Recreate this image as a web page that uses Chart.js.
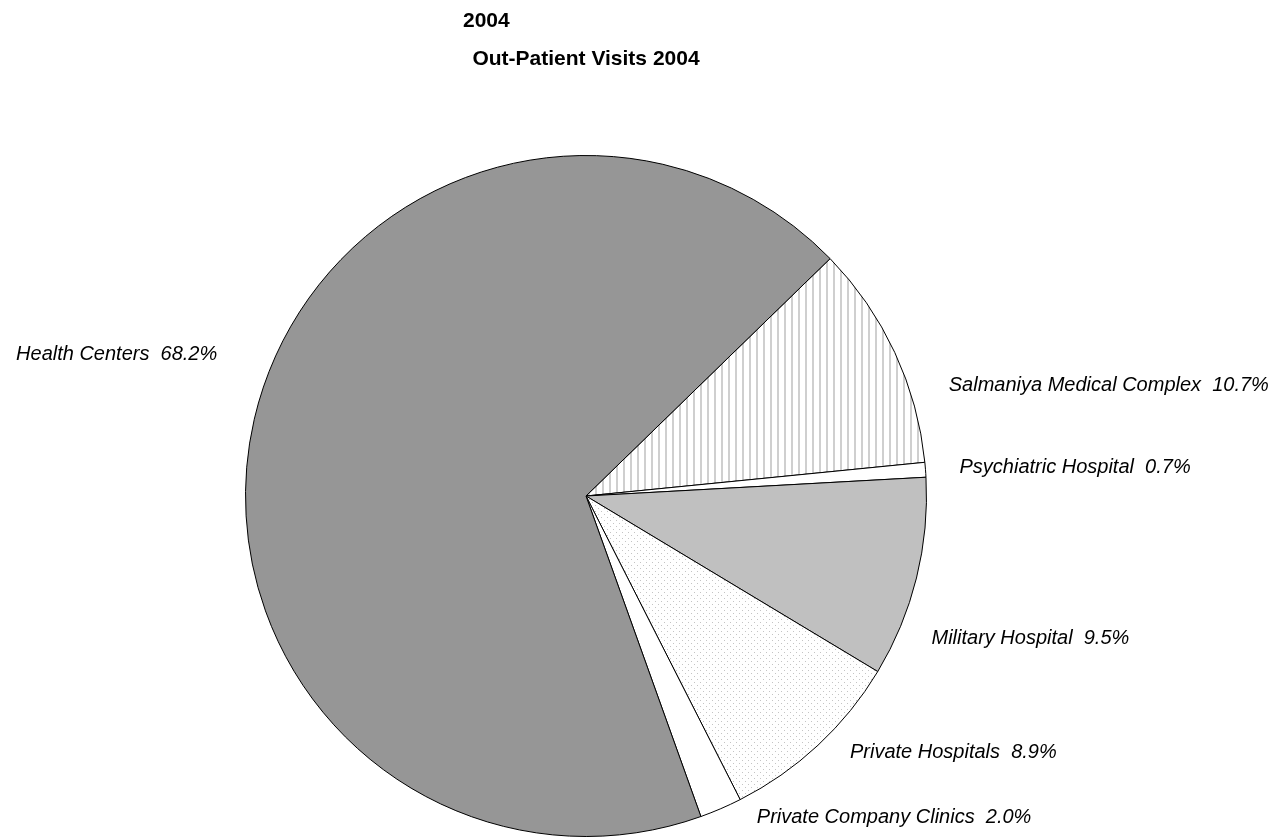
<!DOCTYPE html>
<html>
<head>
<meta charset="utf-8">
<script src="https://cdn.jsdelivr.net/npm/chart.js@4.4.1/dist/chart.umd.min.js"></script>
<style>
  body { margin: 0; background: #fff; }
  canvas { display: block; }
</style>
</head>
<body>
<canvas id="c1" width="1276" height="837"></canvas>
<script>
// Out-Patient Visits 2004 (share of visits, %)
var labels1 = ['Salmaniya Medical Complex', 'Psychiatric Hospital', 'Military Hospital',
               'Private Hospitals', 'Private Company Clinics', 'Health Centers'];
var share1 = [10.7, 0.7, 9.5, 8.9, 2.0, 68.2];
var titleTop = '2004';
var titleMain = 'Out-Patient Visits 2004';

// label nudges from the outer edge of each slice (dx, dy), px
var nudgeX = [54, 34, 15, 32, 36, -37];
var nudgeY = [33, -2, 60, 7, 9, -65];

function stripes() {
  var c = document.createElement('canvas');
  c.width = 7; c.height = 4;
  var g = c.getContext('2d');
  g.fillStyle = '#fff'; g.fillRect(0, 0, 7, 4);
  g.fillStyle = '#cfcfcf'; g.fillRect(0, 0, 2, 4);
  return g.createPattern(c, 'repeat');
}
function dots() {
  var c = document.createElement('canvas');
  c.width = 6; c.height = 6;
  var g = c.getContext('2d');
  g.fillStyle = '#fff'; g.fillRect(0, 0, 6, 6);
  g.fillStyle = '#c4c4c4';
  g.fillRect(1, 1, 1, 1);
  g.fillRect(4, 4, 1, 1);
  return g.createPattern(c, 'repeat');
}

var sliceLabels = {
  id: 'sliceLabels',
  afterDatasetsDraw: function(chart) {
    var ctx = chart.ctx;
    var meta = chart.getDatasetMeta(0);
    ctx.save();
    ctx.font = 'italic 20px "Liberation Sans", Arial, sans-serif';
    ctx.fillStyle = '#000';
    ctx.textBaseline = 'middle';
    meta.data.forEach(function(arc, i) {
      var p = arc.getProps(['x', 'y', 'startAngle', 'endAngle', 'outerRadius'], true);
      var mid = (p.startAngle + p.endAngle) / 2;
      var ex = p.x + Math.cos(mid) * p.outerRadius;
      var ey = p.y + Math.sin(mid) * p.outerRadius;
      ctx.textAlign = Math.cos(mid) >= 0 ? 'left' : 'right';
      var txt = labels1[i] + '  ' + share1[i].toFixed(1) + '%';
      ctx.fillText(txt, ex + nudgeX[i], ey + nudgeY[i]);
    });
    ctx.restore();
  }
};

var titles = {
  id: 'titles',
  afterDraw: function(chart) {
    var ctx = chart.ctx;
    var a = chart.chartArea;
    var cx = (a.left + a.right) / 2;
    ctx.save();
    ctx.font = 'bold 21px "Liberation Sans", Arial, sans-serif';
    ctx.fillStyle = '#000';
    ctx.textBaseline = 'middle';
    ctx.textAlign = 'left';
    ctx.fillText(titleTop, cx - 123, 21);
    ctx.textAlign = 'center';
    ctx.fillText(titleMain, cx, 59);
    ctx.restore();
  }
};

var ctx = document.getElementById('c1').getContext('2d');
var chart1 = new Chart(ctx, {
    type: 'pie',
    data: {
        labels: labels1,
        datasets: [{
            data: share1,
            backgroundColor: [stripes(), '#ffffff', '#c0c0c0', dots(), '#ffffff', '#969696'],
            borderColor: '#000',
            borderWidth: 1
        }]
    },
    options: {
        responsive: false,
        devicePixelRatio: 1,
        animation: false,
        rotation: 45.8,
        layout: { padding: { top: 155, bottom: 0, left: 245, right: 349 } },
        plugins: {
            legend: { display: false },
            tooltip: { enabled: false },
            title: { display: false }
        }
    },
    plugins: [sliceLabels, titles]
});
</script>
</body>
</html>
